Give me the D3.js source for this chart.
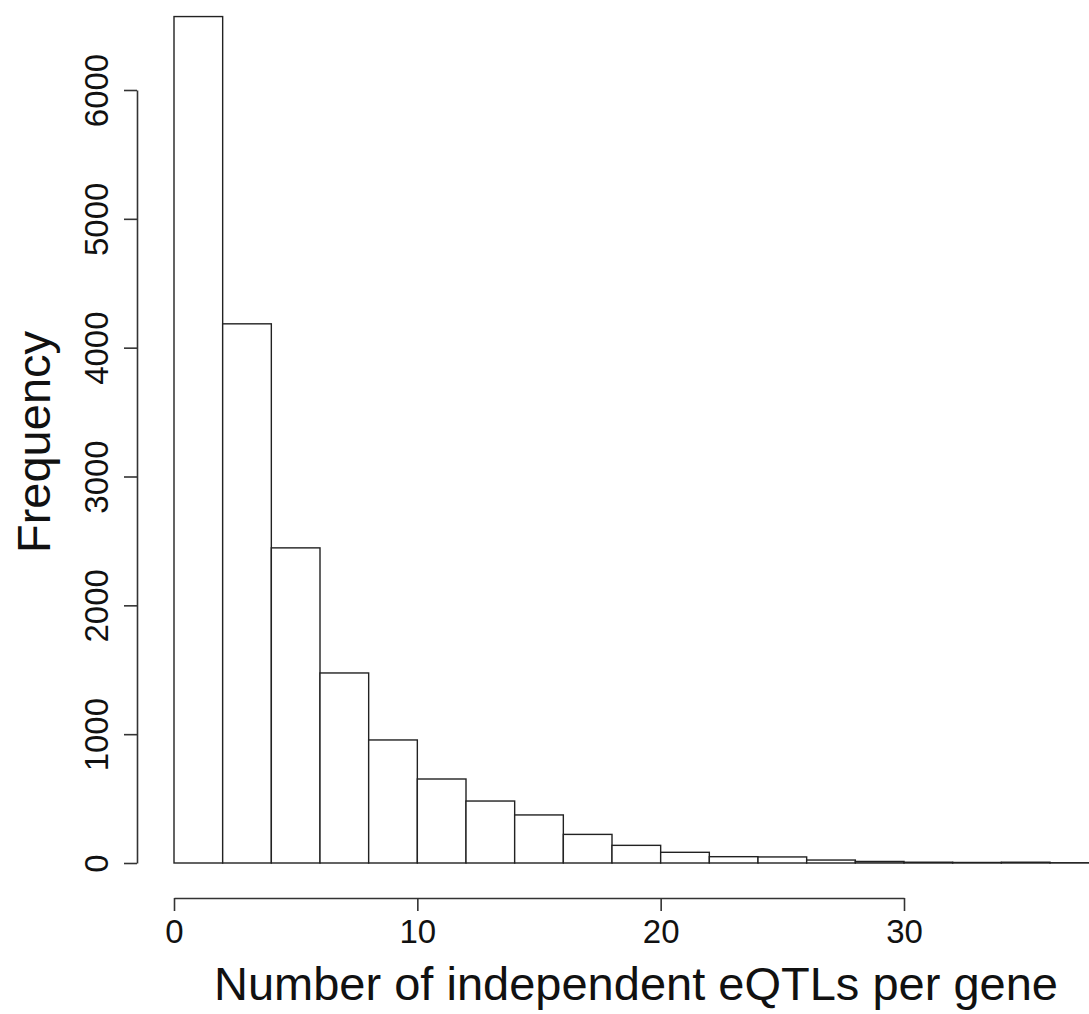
<!DOCTYPE html>
<html>
<head>
<meta charset="utf-8">
<script src="https://cdn.jsdelivr.net/npm/d3@7"></script>
<style>
  body { margin: 0; background: #fff; }
  svg { display: block; font-family: "Liberation Sans", Arial, sans-serif; }
</style>
</head>
<body>
<div id="chart"></div>
<script>
// histogram bins (width 2) and counts
var binStarts = [0, 2, 4, 6, 8, 10, 12, 14, 16, 18, 20, 22, 24, 26, 28, 30, 32, 34, 36, 38];
var counts    = [6570, 4185, 2446, 1475, 955, 652, 481, 373, 222, 137, 83, 49, 47, 23, 12, 6, 4, 6, 2, 1];
var xTicks = [0, 10, 20, 30];
var yTicks = [0, 1000, 2000, 3000, 4000, 5000, 6000];

var W = 1089, H = 1014;
var svg = d3.select("#chart").append("svg").attr("width", W).attr("height", H);

// scales
var x = d3.scaleLinear().domain([0, 30]).range([174, 904]);
var y = d3.scaleLinear().domain([0, 6000]).range([863, 90]);

// bars
svg.selectAll(".bar").data(binStarts).enter()
    .append("rect")
    .attr("class", "bar")
    .attr("x", function(d) { return x(d); })
    .attr("y", function(d, i) { return y(counts[i]); })
    .attr("width", function(d) { return x(d + 2) - x(d); })
    .attr("height", function(d, i) { return y(0) - y(counts[i]); })
    .attr("fill", "#fff")
    .attr("stroke", "#222")
    .attr("stroke-width", 1.4);

// x axis
var gx = svg.append("g").attr("transform", "translate(0,898)")
    .call(d3.axisBottom(x).tickValues(xTicks).tickFormat(d3.format("d")).tickSize(13).tickSizeOuter(0).tickPadding(6));
gx.attr("font-size", null).attr("font-family", null);
gx.select(".domain").attr("stroke", "#333").attr("stroke-width", 1.6);
gx.selectAll(".tick line").attr("stroke", "#333").attr("stroke-width", 1.6);
gx.selectAll(".tick text")
    .attr("font-size", 33).attr("fill", "#111")
    .attr("y", 45).attr("dy", 0);

// y axis
var gy = svg.append("g").attr("transform", "translate(137,0)")
    .call(d3.axisLeft(y).tickValues(yTicks).tickFormat(d3.format("d")).tickSize(13).tickSizeOuter(0));
gy.attr("font-size", null).attr("font-family", null);
gy.select(".domain").attr("stroke", "#333").attr("stroke-width", 1.6);
gy.selectAll(".tick line").attr("stroke", "#333").attr("stroke-width", 1.6);
gy.selectAll(".tick text")
    .attr("font-size", 33).attr("fill", "#111")
    .attr("x", 0).attr("dy", 0)
    .attr("text-anchor", "middle")
    .attr("transform", "translate(-29,0) rotate(-90)");

// axis titles
svg.append("text")
    .attr("x", 214).attr("y", 1000)
    .attr("font-size", 47).attr("fill", "#111")
    .text("Number of independent eQTLs per gene");

svg.append("text")
    .attr("transform", "translate(50,442) rotate(-90)")
    .attr("text-anchor", "middle")
    .attr("font-size", 47).attr("fill", "#111")
    .text("Frequency");
</script>
</body>
</html>
